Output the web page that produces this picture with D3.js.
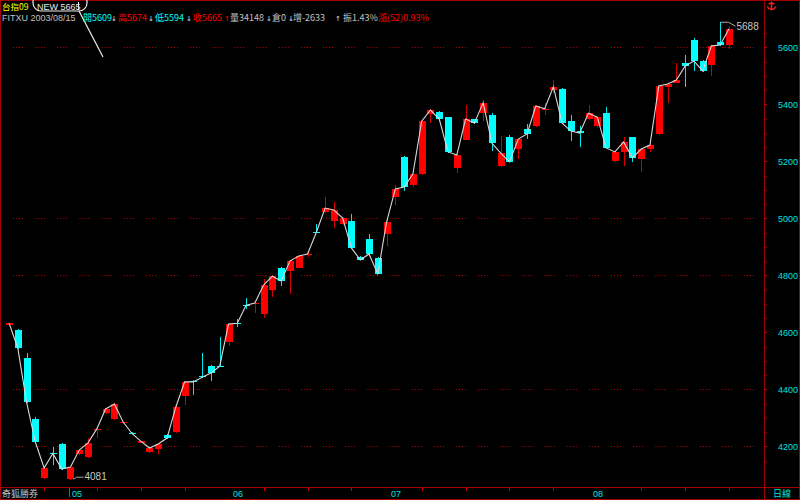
<!DOCTYPE html>
<html><head><meta charset="utf-8">
<script src="https://cdn.jsdelivr.net/npm/d3@7"></script>
<style>html,body{margin:0;padding:0;background:#000;overflow:hidden}svg{display:block}</style>
</head><body><svg id="c" width="800" height="500"></svg>
<script>
// ---- data (Taiwan index futures, daily) ----
const openP =[4626,4608,4510,4296,4089,4178,4208,4084,4173,4162,4258,4317,4296,4282,4248,4212,4180,4190,4240,4250,4376,4429,4445,4482,4483,4566,4634,4697,4701,4664,4748,4826,4815,4826,4872,4953,5022,4991,4980,4991,4864,4927,4861,4945,5075,5215,5117,5155,5366,5373,5355,5176,5275,5348,5369,5362,5183,5285,5243,5313,5324,5382,5450,5454,5341,5306,5348,5324,5369,5201,5233,5285,5208,5243,5296,5461,5475,5545,5626,5552,5538,5619,5609];
const highP =[4634,4610,4527,4303,4126,4197,4210,4128,4189,4229,4268,4333,4352,4288,4250,4220,4196,4210,4242,4340,4428,4431,4527,4484,4583,4631,4647,4720,4705,4787,4800,4830,4852,4870,4885,4980,5075,5057,5003,5015,4866,4945,4863,4989,5117,5217,5157,5343,5382,5375,5357,5224,5398,5350,5415,5369,5289,5292,5280,5331,5396,5405,5485,5456,5362,5324,5398,5357,5391,5235,5285,5287,5245,5259,5466,5473,5545,5573,5633,5554,5607,5688,5674];
const lowP  =[4624,4543,4352,4212,4087,4134,4118,4081,4171,4160,4229,4315,4294,4279,4243,4210,4178,4173,4227,4248,4345,4380,4440,4429,4478,4552,4619,4682,4668,4650,4724,4762,4734,4824,4864,4948,5020,4966,4978,4894,4852,4873,4803,4903,5047,5096,5110,5153,5334,5346,5229,5159,5273,5332,5341,5236,5181,5196,5208,5278,5322,5362,5440,5332,5271,5250,5346,5322,5245,5199,5183,5198,5162,5233,5294,5405,5473,5461,5517,5515,5499,5606,5594];
const closeP=[4633,4545,4355,4215,4124,4175,4120,4127,4187,4212,4261,4331,4348,4285,4245,4218,4194,4208,4229,4338,4426,4426,4442,4457,4481,4629,4632,4695,4703,4766,4797,4780,4850,4868,4875,4950,5036,5029,5001,4896,4854,4875,4805,4987,5103,5110,5155,5341,5380,5348,5233,5222,5348,5334,5405,5264,5229,5198,5278,5296,5394,5384,5461,5334,5306,5299,5369,5355,5247,5233,5268,5212,5243,5257,5464,5471,5485,5534,5552,5517,5605,5608,5665];
const yTickValues=[4200,4400,4600,4800,5000,5200,5400,5600];
const gridLevels=[4200,4400,4800,5000,5600];
const monthLabels=["05","06","07","08"];
const monthIdx=[7,25,43,66];
const weekIdx=[4,10,15,20,29,34,39,47,52,57,62,72,77,82];
const highIdx=81, lowIdx=7;
const headerTop=[{t:"台指09",c:"#ffff00",x:2,f:"cjk",s:8.5},{t:"NEW 5665",c:"#e8e8e8",x:37,f:"lat",s:9}];
const headerLine=[
 {t:"FITXU 2003/08/15",c:"#c0c0c0",x:2,f:"lat"},
 {t:"開5609",c:"#00ffff",x:83},{t:"↓",c:"#e0e0e0",x:111,a:1},
 {t:"高5674",c:"#ff0000",x:118},{t:"↓",c:"#e0e0e0",x:148,a:1},
 {t:"低5594",c:"#00ffff",x:155},{t:"↓",c:"#e0e0e0",x:186,a:1},
 {t:"收5665",c:"#ff0000",x:193},{t:"↑",c:"#ff0000",x:224,a:1},
 {t:"量34148",c:"#c0c0c0",x:230},{t:"↓",c:"#e0e0e0",x:266,a:1},
 {t:"倉0",c:"#c0c0c0",x:272},{t:"↓",c:"#e0e0e0",x:288,a:1},
 {t:"增-2633",c:"#c0c0c0",x:293},{t:"↑",c:"#e0e0e0",x:335,a:1},
 {t:"振1.43%",c:"#c0c0c0",x:343},
 {t:"漲(52)0.93%",c:"#ff0000",x:378}];

const data=closeP.map((c,i)=>({i,o:openP[i],h:highP[i],l:lowP[i],c}));
const svg=d3.select("#c");
const W=800,H=500, axisX=764, bottomY=487;
svg.append("rect").attr("width",W).attr("height",H).attr("fill","#000");

const x=d3.scaleLinear().domain([0,data.length-1]).range([9,729]);
const y=d3.scaleLinear().domain([4200,5600]).range([446.3,47.3]);
const SANS="'Liberation Sans',Arial,sans-serif";
const CJK="'Noto Sans CJK TC','DejaVu Sans',sans-serif";
const ARW="'DejaVu Sans',sans-serif";
const DRED="#a00000";

// grid
svg.append("g").selectAll("line").data(gridLevels).join("line")
 .attr("x1",13).attr("x2",757)
 .attr("y1",d=>Math.round(y(d))+0.5).attr("y2",d=>Math.round(y(d))+0.5)
 .attr("stroke","#c00000").attr("stroke-width",1)
 .attr("stroke-dasharray","1 2 1 2 1 2 1 12.15");

// frame
const frame=svg.append("g").attr("stroke",DRED).attr("stroke-width",1).attr("shape-rendering","crispEdges");
frame.append("line").attr("x1",0).attr("x2",W).attr("y1",0.5).attr("y2",0.5);
frame.append("line").attr("x1",0.5).attr("x2",0.5).attr("y1",0).attr("y2",H);
frame.append("line").attr("x1",799.5).attr("x2",799.5).attr("y1",0).attr("y2",H);
frame.append("line").attr("x1",0).attr("x2",W).attr("y1",bottomY+0.5).attr("y2",bottomY+0.5);
frame.append("line").attr("x1",0).attr("x2",W).attr("y1",499.5).attr("y2",499.5);
frame.append("line").attr("x1",axisX+0.5).attr("x2",axisX+0.5).attr("y1",0).attr("y2",H);

// right axis
const ax=d3.axisRight(y).tickValues(yTickValues).tickSize(3).tickPadding(11).tickFormat(d3.format("d"));
const axg=svg.append("g").attr("transform",`translate(${axisX},0)`).call(ax);
axg.select(".domain").remove();
axg.selectAll(".tick line").attr("stroke","#c00000").attr("shape-rendering","crispEdges");
axg.selectAll(".tick text").attr("fill","#00e0e0").attr("font-family",SANS).attr("font-size",9);
// minor ticks
const minor=d3.range(4150,5700,50).filter(v=>v%200!==0);
svg.append("g").selectAll("rect").data(minor).join("rect")
 .attr("x",axisX+2).attr("y",d=>Math.round(y(d))).attr("width",1).attr("height",1).attr("fill","#c00000");

// bottom axis: week ticks, month labels
svg.append("g").selectAll("line").data(weekIdx).join("line")
 .attr("x1",d=>Math.round(x(d))+0.5).attr("x2",d=>Math.round(x(d))+0.5)
 .attr("y1",bottomY+1).attr("y2",bottomY+4).attr("stroke","#c00000").attr("shape-rendering","crispEdges");
svg.append("line").attr("x1",Math.round(x(monthIdx[0]))-0.5).attr("x2",Math.round(x(monthIdx[0]))-0.5)
 .attr("y1",bottomY+1).attr("y2",bottomY+10).attr("stroke","#ff2020");
svg.append("g").selectAll("text").data(monthLabels).join("text")
 .attr("x",(d,i)=>x(monthIdx[i])+ (i===0?1.5:4.5)).attr("y",497)
 .attr("fill","#00e0e0").attr("font-family",SANS).attr("font-size",9).text(d=>d);
svg.append("text").attr("x",2).attr("y",497).attr("fill","#c8c8c8").attr("font-family",CJK)
 .attr("font-size",9).text("奇狐勝券");
svg.append("text").attr("x",773).attr("y",497).attr("fill","#00e0e0").attr("font-family",CJK)
 .attr("font-size",9).text("日線");

// candles
const up=d=>d.c>=d.o;
const cg=svg.append("g").attr("shape-rendering","crispEdges");
cg.selectAll("line").data(data).join("line")
 .attr("x1",d=>Math.round(x(d.i))+0.5).attr("x2",d=>Math.round(x(d.i))+0.5)
 .attr("y1",d=>y(d.h)).attr("y2",d=>y(d.l))
 .attr("stroke",d=>up(d)?"#d00000":"#00e8e8");
cg.selectAll("rect").data(data).join("rect")
 .attr("x",d=>Math.round(x(d.i))-3).attr("width",7)
 .attr("y",d=>Math.round(y(Math.max(d.o,d.c))))
 .attr("height",d=>Math.max(1,Math.round(y(Math.min(d.o,d.c)))-Math.round(y(Math.max(d.o,d.c)))))
 .attr("fill",d=>up(d)?"#ff0000":"#00ffff");

// close line
svg.append("path").datum(data)
 .attr("d",d3.line().x(d=>x(d.i)).y(d=>y(d.c)))
 .attr("fill","none").attr("stroke","#d8d8d8").attr("stroke-width",1.1);

// high / low annotations
const hx=Math.round(x(highIdx))+0.5, hy=y(highP[highIdx]);
svg.append("path").attr("d",`M${hx},${hy}H${hx+8}L${hx+15},${hy+4}`).attr("fill","none").attr("stroke","#a8a8a8");
svg.append("text").attr("x",hx+16).attr("y",hy+7.5).attr("fill","#c8c8c8").attr("font-family",SANS).attr("font-size",10)
 .text(highP[highIdx]);
const lx=Math.round(x(lowIdx))+3.5, ly=y(lowP[lowIdx]);
svg.append("path").attr("d",`M${lx},${ly-1}L${lx+3},${ly-3}H${lx+10}`).attr("fill","none").attr("stroke","#a8a8a8");
svg.append("text").attr("x",lx+11).attr("y",ly).attr("fill","#c8c8c8").attr("font-family",SANS).attr("font-size",10)
 .text(lowP[lowIdx]);

// header: one text element, coloured tspans on two lines
svg.append("rect").attr("x",33).attr("y",-6).attr("width",54).attr("height",17).attr("rx",8).attr("ry",8)
 .attr("fill","none").attr("stroke","#f0f0f0").attr("stroke-width",1.2);
svg.append("line").attr("x1",78.5).attr("x2",78.5).attr("y1",2).attr("y2",10).attr("stroke","#f0f0f0");
svg.append("line").attr("x1",79).attr("y1",11).attr("x2",103).attr("y2",57).attr("stroke","#f0f0f0").attr("stroke-width",1.2);
const hdr=svg.append("text").attr("font-family",CJK).attr("font-size",9);
const rows=headerTop.map(d=>({...d,y:10})).concat(headerLine.map(d=>({...d,y:21})));
hdr.selectAll("tspan").data(rows).join("tspan")
 .attr("x",d=>d.x).attr("y",d=>d.y).attr("fill",d=>d.c)
 .attr("font-family",d=>d.a?ARW:(d.f==="lat"?SANS:null))
 .attr("font-size",d=>d.a?7:(d.s||null))
 .text(d=>d.t);

// anchor icon
svg.append("path").attr("d","M771.5,1.5V9.5M768.5,3.5H774.5M767.5,6.5Q768,9.5 771.5,9.5Q775,9.5 775.5,6.5")
 .attr("fill","none").attr("stroke","#ff2020").attr("stroke-width",1.4);
</script></body></html>
